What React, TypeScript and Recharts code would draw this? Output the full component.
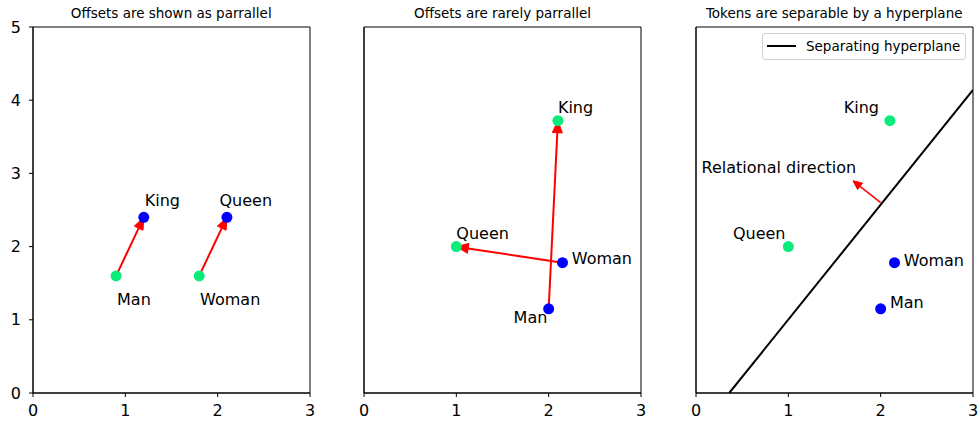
import React from 'react';
import {
  ComposedChart, Scatter, Line, XAxis, YAxis, ReferenceLine, ReferenceArea
} from 'recharts';

const xTicks = [0, 1, 2, 3];
const yTicks = [0, 1, 2, 3, 4, 5];
const titles = [
  'Offsets are shown as parrallel',
  'Offsets are rarely parrallel',
  'Tokens are separable by a hyperplane',
];

// Panel 1: parallel offsets
const p1Green = [{ x: 0.9, y: 1.6 }, { x: 1.8, y: 1.6 }];
const p1Blue = [{ x: 1.2, y: 2.4 }, { x: 2.1, y: 2.4 }];
const p1Labels = [
  { x: 1.21, y: 2.55, text: 'King' },
  { x: 2.02, y: 2.55, text: 'Queen' },
  { x: 0.91, y: 1.2, text: 'Man' },
  { x: 1.81, y: 1.2, text: 'Woman' },
];
const p1Arrows = [
  [{ x: 0.9, y: 1.6 }, { x: 1.2, y: 2.4 }],
  [{ x: 1.8, y: 1.6 }, { x: 2.1, y: 2.4 }],
];

// Panel 2: real embeddings, offsets not parallel
const p2Green = [{ x: 2.1, y: 3.72 }, { x: 1.0, y: 2.0 }];
const p2Blue = [{ x: 2.15, y: 1.78 }, { x: 2.0, y: 1.15 }];
const p2Labels = [
  { x: 2.1, y: 3.82, text: 'King' },
  { x: 1.0, y: 2.1, text: 'Queen' },
  { x: 2.25, y: 1.76, text: 'Woman' },
  { x: 1.62, y: 0.95, text: 'Man' },
];
const p2Arrows = [
  [{ x: 2.0, y: 1.15 }, { x: 2.1, y: 3.72 }],
  [{ x: 2.15, y: 1.78 }, { x: 1.0, y: 2.0 }],
];

// Panel 3: separating hyperplane
const p3Green = p2Green;
const p3Blue = p2Blue;
const p3Labels = [
  { x: 1.6, y: 3.82, text: 'King' },
  { x: 0.4, y: 2.1, text: 'Queen' },
  { x: 2.25, y: 1.73, text: 'Woman' },
  { x: 2.1, y: 1.16, text: 'Man' },
  { x: 0.06, y: 3.0, text: 'Relational direction' },
];
const p3Arrows = [[{ x: 2.0, y: 2.6 }, { x: 1.7, y: 2.9 }]];
const hyperplane = [{ x: 0.36, y: 0 }, { x: 3.0, y: 4.14 }];
const legendName = 'Separating hyperplane';

const GREEN = '#0aeb7a';
const BLUE = '#0000ff';
const RED = '#ff0000';
const FONT = "'DejaVu Sans', sans-serif";

const panels = [
  { green: p1Green, blue: p1Blue, labels: p1Labels, arrows: p1Arrows, head: 12, hw: 4.8, sw: 2, showY: true, line: false },
  { green: p2Green, blue: p2Blue, labels: p2Labels, arrows: p2Arrows, head: 12, hw: 5, sw: 2, showY: false, line: false },
  { green: p3Green, blue: p3Blue, labels: p3Labels, arrows: p3Arrows, head: 9, hw: 4, sw: 1.5, showY: false, line: true },
];
const plotLefts = [32.7, 364, 695.7];

const arrowShape = (head: number, hw: number, sw: number) => (props: any) => {
  const { x1, y1, x2, y2 } = props;
  const dx = x2 - x1;
  const dy = y2 - y1;
  const len = Math.sqrt(dx * dx + dy * dy) || 1;
  const ux = dx / len;
  const uy = dy / len;
  const bx = x2 - ux * head;
  const by = y2 - uy * head;
  const pts = `${x2},${y2} ${bx - uy * hw},${by + ux * hw} ${bx + uy * hw},${by - ux * hw}`;
  return (
    <g>
      <line x1={x1} y1={y1} x2={bx} y2={by} stroke={RED} strokeWidth={sw} />
      <polygon points={pts} fill={RED} stroke={RED} strokeWidth={1} />
    </g>
  );
};

const dotShape = (color: string) => (p: any) => (
  <circle cx={p.cx} cy={p.cy} r={5.5} fill={color} />
);

const textShape = (p: any) => (
  <text x={p.cx} y={p.cy} fontSize={16} fontFamily={FONT} fill="#000">{p.payload.text}</text>
);

// legend box drawn as plain HTML so it doesn't take room from the plot
const LegendBox = () => (
  <div style={{
    position: 'absolute', left: 99.3, top: 32.5, width: 202, height: 25,
    display: 'flex', alignItems: 'center',
    border: '1px solid #d0d0d0', borderRadius: 3, background: 'rgba(255,255,255,0.8)',
    fontFamily: FONT, fontSize: 13.5, color: '#000', whiteSpace: 'nowrap',
  }}>
    <svg width={38} height={24}><line x1={4} y1={12} x2={33} y2={12} stroke="#000" strokeWidth={2} /></svg>
    <span style={{ marginLeft: 5 }}>{legendName}</span>
  </div>
);

const tickStyle = { fontSize: 16, fill: '#000', fontFamily: FONT };

const Panel = ({ idx }: { idx: number }) => {
  const p = panels[idx];
  const left = plotLefts[idx] - 33;
  return (
    <div style={{ position: 'absolute', left, top: 0, width: 316, height: 421 }}>
      <div style={{
        position: 'absolute', left: 33, width: 277, top: 5, textAlign: 'center',
        fontFamily: FONT, fontSize: 13.5, lineHeight: '16px', whiteSpace: 'nowrap',
      }}>{titles[idx]}</div>
      <ComposedChart width={316} height={421} margin={{ top: 27, right: 6, bottom: 4, left: 8 }}>
        <XAxis type="number" dataKey="x" domain={[0, 3]} ticks={xTicks} allowDataOverflow
          height={24} tickSize={4} tickMargin={8} tick={tickStyle}
          stroke="#000" axisLine={{ stroke: '#000' }} tickLine={{ stroke: '#000' }} />
        <YAxis type="number" dataKey="y" domain={[0, 5]} ticks={yTicks} allowDataOverflow
          width={25} tickSize={4} tickMargin={8} tick={p.showY ? tickStyle : false}
          stroke="#000" axisLine={{ stroke: '#000' }} tickLine={{ stroke: '#000' }} />
        <ReferenceArea x1={0} x2={3} y1={0} y2={5} fill="none" stroke="#000" strokeWidth={1} fillOpacity={0} />
        {p.line && (
          <Line data={hyperplane} dataKey="y" type="linear" name={legendName}
            stroke="#000" strokeWidth={2} dot={false} isAnimationActive={false} />
        )}
        <Scatter data={p.green} fill={GREEN} shape={dotShape(GREEN)} isAnimationActive={false} />
        <Scatter data={p.blue} fill={BLUE} shape={dotShape(BLUE)} isAnimationActive={false} />
        <Scatter data={p.labels} fill="#000" shape={textShape} isAnimationActive={false} />
        {p.arrows.map((a, i) => (
          <ReferenceLine key={i} segment={a} shape={arrowShape(p.head, p.hw, p.sw)} />
        ))}
      </ComposedChart>
      {p.line && <LegendBox />}
    </div>
  );
};

export default function App() {
  return (
    <div style={{ position: 'absolute', left: 0, top: 0, width: 979, height: 421, overflow: 'hidden', background: '#fff' }}>
      {[0, 1, 2].map((i) => <Panel key={i} idx={i} />)}
    </div>
  );
}
